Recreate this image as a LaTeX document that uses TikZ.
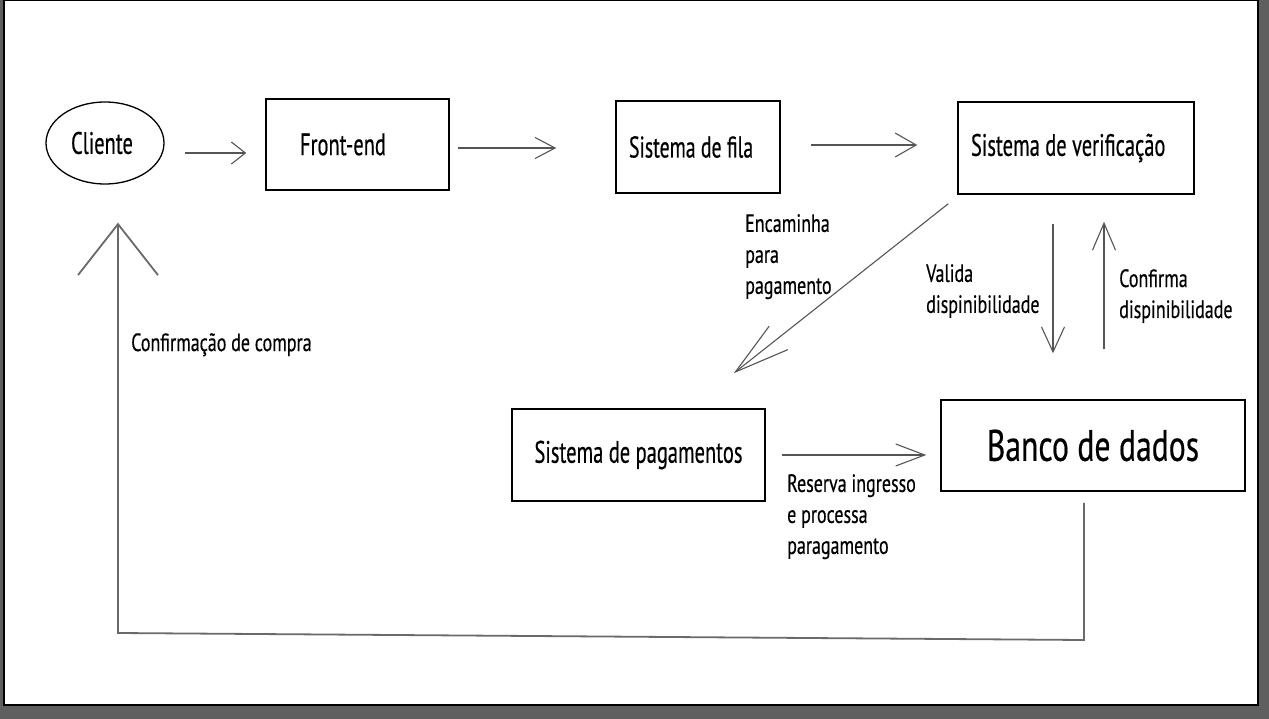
\documentclass[tikz,border=0pt]{standalone}
\usepackage{fontspec}
\setmainfont{PT Sans}[FakeStretch=0.72,FakeBold=0.4]
\newfontfamily\boxfont{PT Sans}[FakeStretch=0.66,FakeBold=0.4]
\usetikzlibrary{arrows.meta,shapes.geometric,calc}
\definecolor{framegray}{HTML}{5F5F5F}
\definecolor{arrowgray}{HTML}{555555}
\definecolor{retgray}{HTML}{6A6A6A}
\begin{document}
\begin{tikzpicture}[x=1pt,y=-1pt,
  box/.style={draw=black,line width=1.5pt,rectangle,inner ysep=0pt},
  arr/.style={draw=arrowgray,line width=1.1pt},
  lbl/.style={font=\fontsize{25}{31}\selectfont,align=left,anchor=north west,inner sep=0pt}]
\useasboundingbox (0,0) rectangle (1269,719);
\fill[framegray] (0,0) rectangle (1269,719);
\draw[fill=white,line width=1.5pt] (4,0) rectangle (1258,705);

% nodes
\node[draw=black,line width=1.3pt,ellipse,minimum width=118,minimum height=82,inner sep=0pt,font=\boxfont\fontsize{31}{36}\selectfont] (cli) at (105,143) {\hspace*{-6pt}Cliente};
\node[box,minimum width=183,minimum height=91,inner xsep=34,font=\boxfont\fontsize{31}{36}\selectfont] (fe) at (357.5,144.5) {\makebox[115pt][l]{Front-end}};
\node[box,minimum width=164,minimum height=92,inner xsep=13,font=\boxfont\fontsize{30}{34}\selectfont] (fila) at (698,147) {\makebox[138pt][l]{Sistema de fila}};
\node[box,minimum width=236,minimum height=92,inner xsep=13,font=\boxfont\fontsize{31}{34}\selectfont] (verif) at (1076,148) {\makebox[210pt][l]{Sistema de verificação}};
\node[box,minimum width=253,minimum height=92,inner xsep=0pt,font=\boxfont\fontsize{31}{36}\selectfont] (pag) at (638.5,455) {Sistema de pagamentos};
\node[box,minimum width=304,minimum height=91,inner xsep=0pt,font=\fontsize{44}{48}\selectfont] (banco) at (1093,445.5) {Banco de dados};

% labels
\node[lbl] (lenc) at (745,214) {Encaminha\\para\\pagamento};
\node[lbl] (lval) at (926,264) {Valida\\dispinibilidade};
\node[lbl] (lconf) at (1119,269) {Confirma\\dispinibilidade};
\node[lbl] (lres) at (787,474) {Reserva ingresso\\e processa\\paragamento};
\node[lbl] (lcomp) at (131,333) {Confirmação de compra};

% connectors
\draw[arr,-{Straight Barb[length=14pt,width=22pt]}] ($(cli.east)+(20,10)$) -- ($(fe.west)+(-19,8.5)$);
\draw[arr,-{Straight Barb[length=20pt,width=21pt]}] ($(fe.east)+(8,3.5)$) -- ($(fila.west)+(-59,1)$);
\draw[arr,-{Straight Barb[length=21pt,width=24pt]}] ($(fila.east)+(30,-2)$) -- ($(verif.west)+(-40,-3)$);
\draw[arr,-{Straight Barb[length=55pt,width=30pt]}] ($(verif.south west)+(-9,9)$) -- ($(pag.north east)+(-32,-35)$);
\draw[arr,-{Straight Barb[length=25pt,width=23pt]}] ($(verif.south)+(-23,29)$) -- ($(banco.north)+(-40,-46)$);
\draw[arr,-{Straight Barb[length=27pt,width=23pt]}] ($(banco.north)+(11,-50)$) -- ($(verif.south)+(28,27)$);
\draw[arr,-{Straight Barb[length=29pt,width=22pt]}] ($(pag.east)+(16,0)$) -- ($(banco.west)+(-14,9.5)$);

\coordinate (r1) at (1084,640);
\coordinate (r2) at (118,633);
\draw[draw=retgray,line width=1.8pt,-{Straight Barb[length=51pt,width=80pt]}] ($(banco.south)+(-9,11)$) -- (r1) -- (r2) -- ($(cli.south)+(13,38)$);
\end{tikzpicture}
\end{document}
